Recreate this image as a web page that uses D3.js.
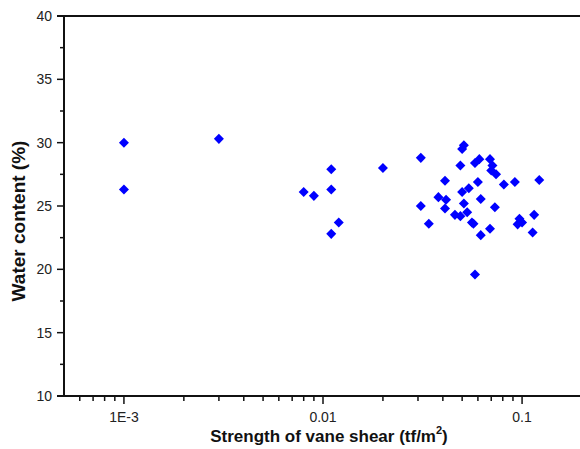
<!DOCTYPE html>
<html>
<head>
<meta charset="utf-8">
<script src="https://cdn.jsdelivr.net/npm/d3@7"></script>
<style>
  body { margin: 0; background: #fff; }
  svg { display: block; font-family: "Liberation Sans", Arial, sans-serif; }
</style>
</head>
<body>
<svg id="chart" width="580" height="449"></svg>
<script>
// vane shear strength (tf/m2) and water content (%)
var strength = [0.001, 0.001, 0.003, 0.008, 0.009, 0.011, 0.011, 0.012, 0.011, 0.02,
  0.031, 0.031, 0.034, 0.041, 0.038, 0.0415, 0.041, 0.046, 0.049, 0.051,
  0.050, 0.049, 0.058, 0.061, 0.069, 0.071, 0.070, 0.074, 0.081, 0.092,
  0.122, 0.060, 0.054, 0.050, 0.062, 0.051, 0.073, 0.053, 0.057, 0.056,
  0.069, 0.062, 0.097, 0.095, 0.100, 0.115, 0.113, 0.058];
var water = [30.0, 26.3, 30.3, 26.1, 25.8, 27.9, 26.3, 23.7, 22.8, 28.0,
  28.8, 25.0, 23.6, 27.0, 25.7, 25.5, 24.8, 24.3, 24.2, 29.8,
  29.5, 28.2, 28.4, 28.7, 28.7, 28.2, 27.8, 27.5, 26.7, 26.9,
  27.05, 26.9, 26.4, 26.1, 25.55, 25.2, 24.9, 24.5, 23.6, 23.7,
  23.2, 22.7, 24.0, 23.55, 23.7, 24.3, 22.9, 19.6];

var xTicks = [0.001, 0.01, 0.1];
var xTickLabels = ["1E-3", "0.01", "0.1"];
var yTicks = [10, 15, 20, 25, 30, 35, 40];

var svg = d3.select("#chart");
var margin = { top: 16, left: 64, bottom: 53 };
var plotH = 449 - margin.top - margin.bottom;

var x = d3.scaleLog().domain([5e-4, 0.2]).range([margin.left, 582]);
var y = d3.scaleLinear().domain([10, 40]).range([margin.top + plotH, margin.top]);

var axisColor = "#111";

// minor ticks on x: 2..9 x 10^k inside the domain
var xMinor = [];
[-4, -3, -2, -1].forEach(function (k) {
  for (var m = 2; m <= 9; m++) {
    var v = m * Math.pow(10, k);
    if (v > 5e-4 && v < 0.2) xMinor.push(v);
  }
});
var yMinor = d3.range(12.5, 40, 5);

var bottomY = y(10);

// x axis
svg.append("g").attr("class", "xminor")
  .selectAll("line").data(xMinor).join("line")
  .attr("x1", d => x(d)).attr("x2", d => x(d))
  .attr("y1", bottomY).attr("y2", bottomY + 5)
  .attr("stroke", axisColor).attr("stroke-width", 1.5);

svg.append("g").attr("class", "xmajor")
  .selectAll("line").data(xTicks).join("line")
  .attr("x1", d => x(d)).attr("x2", d => x(d))
  .attr("y1", bottomY).attr("y2", bottomY + 8)
  .attr("stroke", axisColor).attr("stroke-width", 1.5);

svg.append("g").selectAll("text").data(xTicks).join("text")
  .attr("x", d => x(d)).attr("y", bottomY + 26)
  .attr("text-anchor", "middle")
  .style("font-size", "14px").attr("fill", "#222")
  .text((d, i) => xTickLabels[i]);

// y axis
svg.append("g").selectAll("line").data(yMinor).join("line")
  .attr("x1", margin.left - 4).attr("x2", margin.left)
  .attr("y1", d => y(d)).attr("y2", d => y(d))
  .attr("stroke", axisColor).attr("stroke-width", 1.5);

svg.append("g").selectAll("line").data(yTicks).join("line")
  .attr("x1", margin.left - 7).attr("x2", margin.left)
  .attr("y1", d => y(d)).attr("y2", d => y(d))
  .attr("stroke", axisColor).attr("stroke-width", 1.5);

svg.append("g").selectAll("text").data(yTicks).join("text")
  .attr("x", margin.left - 12).attr("y", d => y(d))
  .attr("dy", "0.35em")
  .attr("text-anchor", "end")
  .style("font-size", "14px").attr("fill", "#222")
  .text(d => d);

// frame: left, bottom, top
svg.append("line")
  .attr("x1", margin.left).attr("x2", margin.left)
  .attr("y1", y(40)).attr("y2", bottomY)
  .attr("stroke", axisColor).attr("stroke-width", 2);
svg.append("line")
  .attr("x1", margin.left - 7).attr("x2", 580)
  .attr("y1", bottomY).attr("y2", bottomY)
  .attr("stroke", axisColor).attr("stroke-width", 2);
svg.append("line")
  .attr("x1", margin.left - 7).attr("x2", 580)
  .attr("y1", y(40)).attr("y2", y(40))
  .attr("stroke", axisColor).attr("stroke-width", 2);

// points (diamonds)
var diamond = d3.symbol().type(d3.symbolDiamond2).size(64);
svg.append("g").selectAll("path").data(strength).join("path")
  .attr("d", diamond)
  .attr("transform", (d, i) => "translate(" + x(d) + "," + y(water[i]) + ")")
  .attr("fill", "#0000ff");

// axis titles
var xt = svg.append("text")
  .attr("x", 329).attr("y", 442)
  .attr("text-anchor", "middle")
  .style("font-size", "17px").style("font-weight", "bold")
  .attr("fill", "#111");
xt.append("tspan").text("Strength of vane shear (tf/m");
xt.append("tspan").attr("dy", -8).style("font-size", "11px").text("2");
xt.append("tspan").attr("dy", 8).text(")");

svg.append("text")
  .attr("transform", "translate(25,221) rotate(-90)")
  .attr("text-anchor", "middle")
  .style("font-size", "19px").style("font-weight", "bold")
  .attr("fill", "#111")
  .text("Water content (%)");
</script>
</body>
</html>
